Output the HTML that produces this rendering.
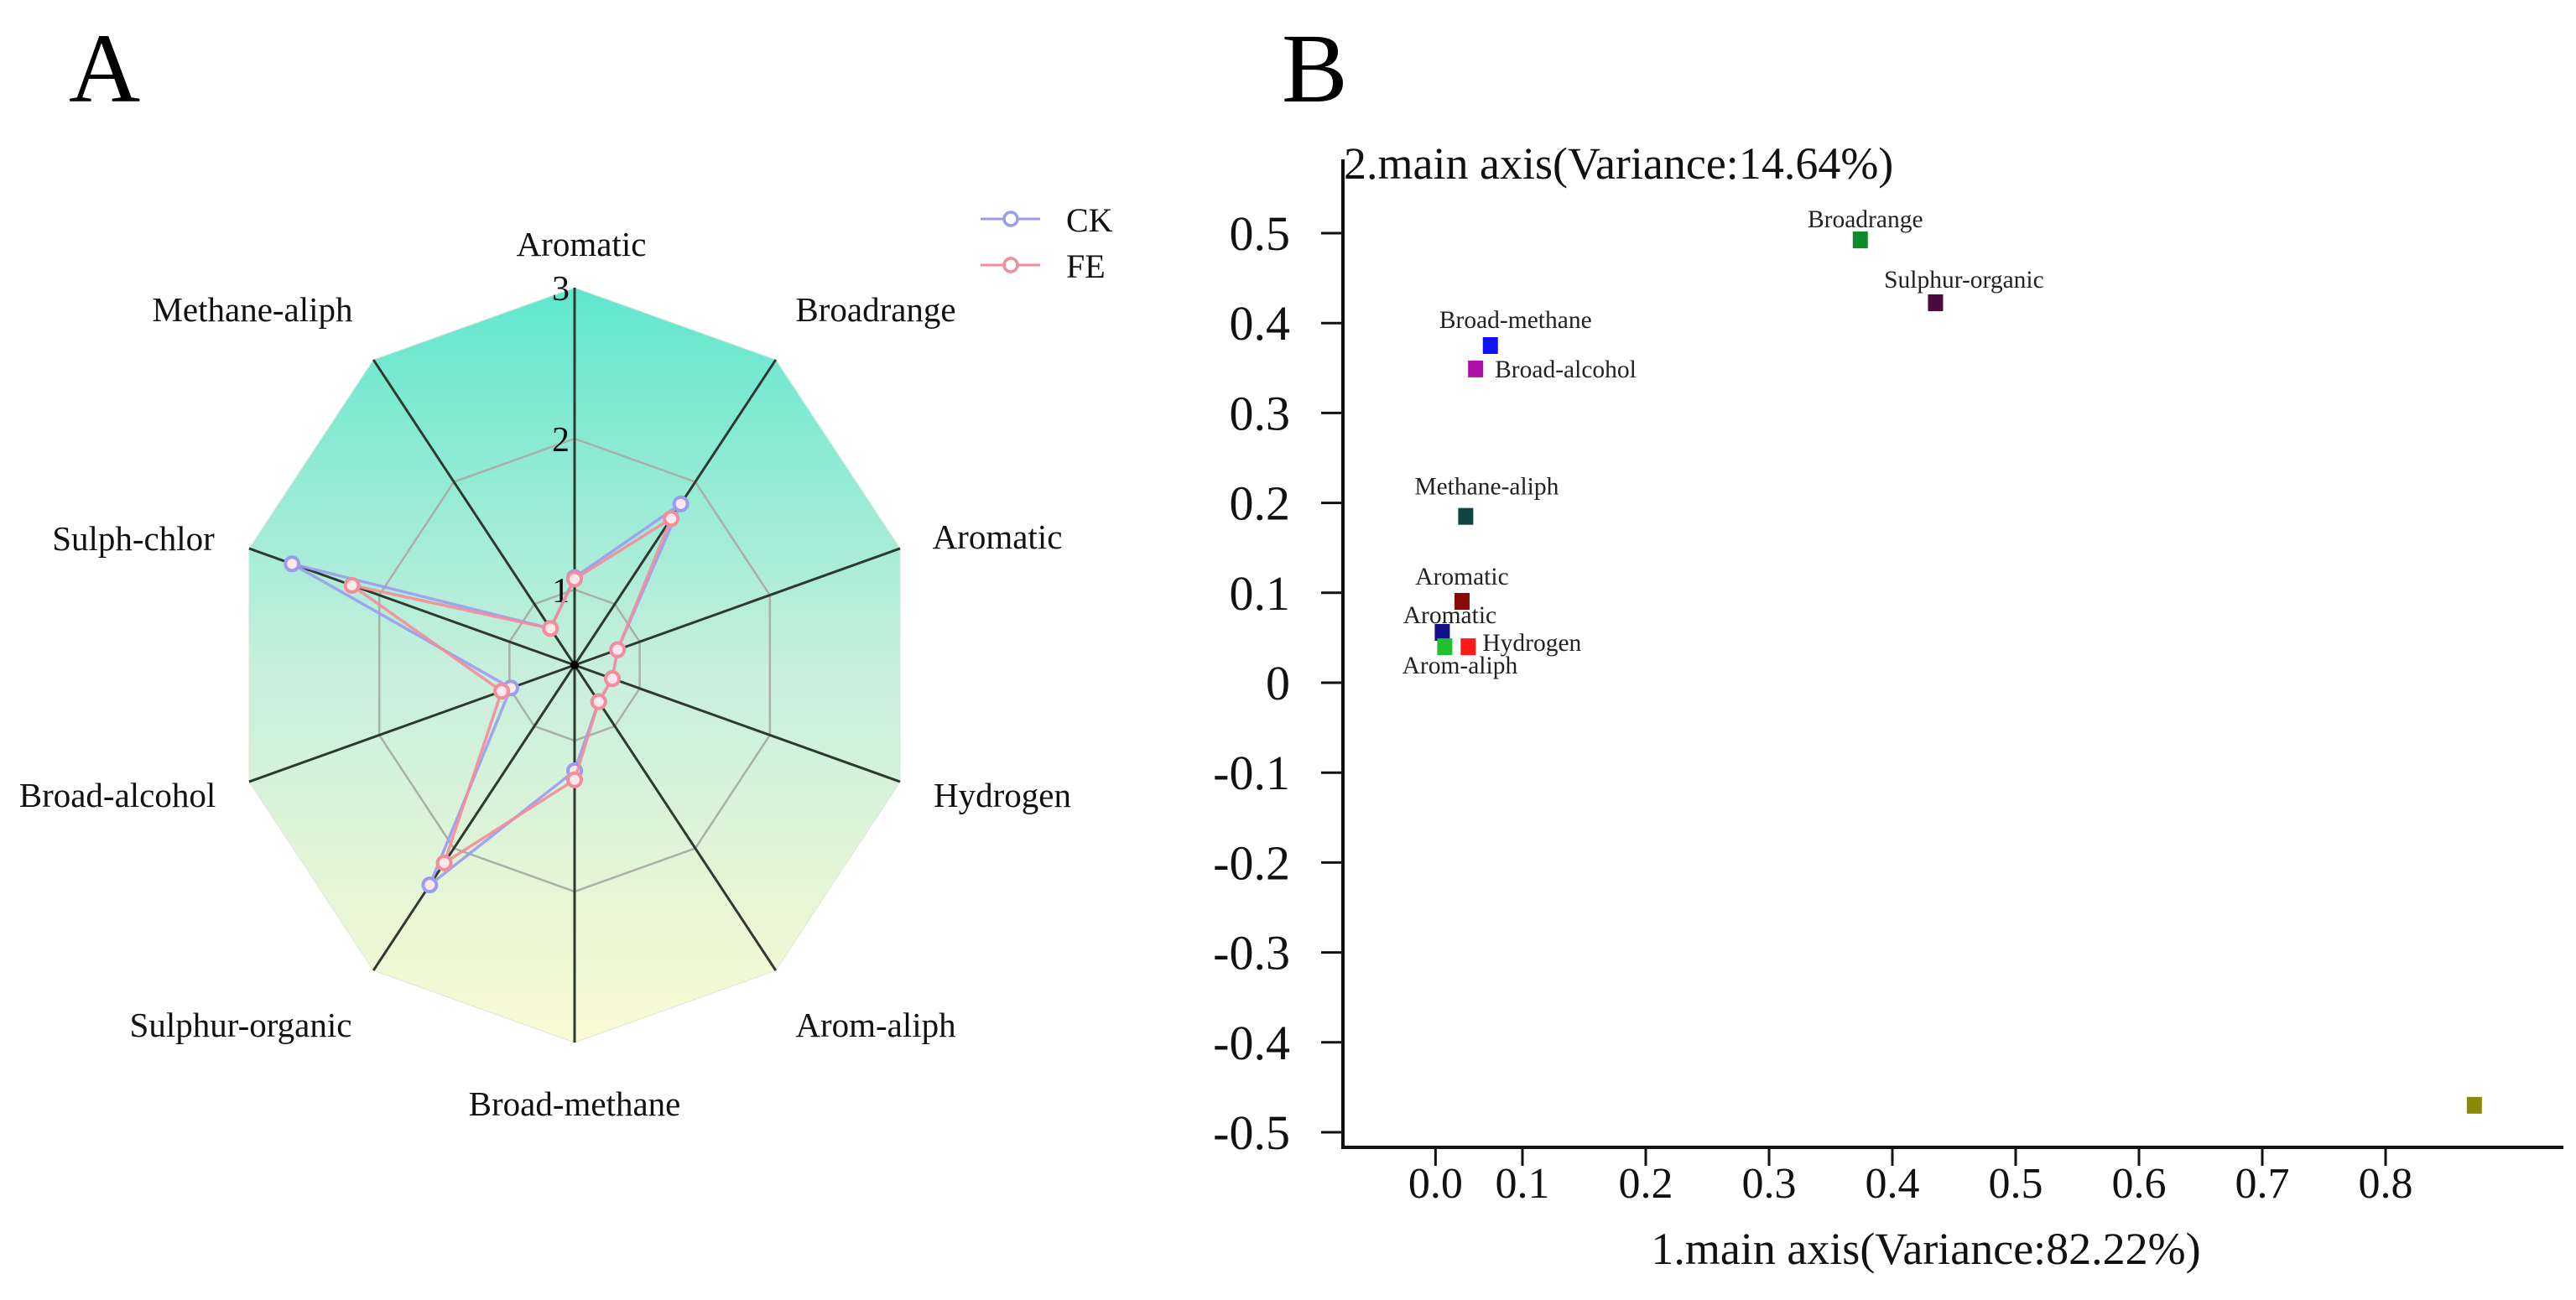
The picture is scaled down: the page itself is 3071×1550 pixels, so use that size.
<!DOCTYPE html>
<html><head><meta charset="utf-8">
<style>
html,body{margin:0;padding:0;background:#fff;}
svg{display:block;font-family:"Liberation Serif",serif;}
</style></head>
<body>
<svg id="fig" width="3071" height="1550" viewBox="0 0 3071 1550" xmlns="http://www.w3.org/2000/svg">
<defs>
<linearGradient id="rg" x1="0" y1="0" x2="0" y2="1">
<stop offset="0" stop-color="#5fe7cd"/>
<stop offset="0.5" stop-color="#c6efdc"/>
<stop offset="1" stop-color="#fafad3"/>
</linearGradient>
</defs>
<text x="82" y="121" font-size="118">A</text>
<text x="1528" y="121" font-size="118">B</text>
<g id="radar"></g>
<g id="scatter"></g>
</svg>
<script>
// ---------- Radar data ----------
const radarAxes = ["Aromatic","Broadrange","Aromatic","Hydrogen","Arom-aliph","Broad-methane","Sulphur-organic","Broad-alcohol","Sulph-chlor","Methane-aliph"];
const ckValues = [1.08, 1.82, 0.83, 0.79, 0.80, 1.20, 2.30, 0.99, 2.67, 0.80];
const feValues = [1.07, 1.70, 0.83, 0.79, 0.80, 1.26, 2.12, 1.06, 2.21, 0.80];
const radarTicks = [1, 2, 3];
const radarTickLabels = ["1", "2", "3"];
const radarMin = 0.5, radarMax = 3;

// ---------- Scatter data ----------
const scatterNames = ["Broadrange","Sulphur-organic","Broad-methane","Broad-alcohol","Methane-aliph","Aromatic","Aromatic","Arom-aliph","Hydrogen",""];
const pc1Values = [0.374, 0.435, 0.074, 0.062, 0.054, 0.051, 0.035, 0.037, 0.056, 0.872];
const pc2Values = [0.4925, 0.4226, 0.375, 0.349, 0.185, 0.0905, 0.056, 0.040, 0.040, -0.470];
const yTickValues = [0.5,0.4,0.3,0.2,0.1,0,-0.1,-0.2,-0.3,-0.4,-0.5];
const yTickLabels = ["0.5","0.4","0.3","0.2","0.1","0","-0.1","-0.2","-0.3","-0.4","-0.5"];
const xTickValues = [0.0295,0.1,0.2,0.3,0.4,0.5,0.6,0.7,0.8];
const xTickLabels = ["0.0","0.1","0.2","0.3","0.4","0.5","0.6","0.7","0.8"];

const NS = "http://www.w3.org/2000/svg";
function mk(tag, attrs, parent){
  const e = document.createElementNS(NS, tag);
  for (const k in attrs) e.setAttribute(k, attrs[k]);
  parent.appendChild(e);
  return e;
}

// ---------- Radar ----------
(function(){
  const g = document.getElementById('radar');
  const cx = 685, cy = 793, rx = 408, ry = 450;
  const n = radarAxes.length;
  function pt(i, v){
    const f = (v - radarMin) / (radarMax - radarMin);
    const a = i * 2 * Math.PI / n;
    return [cx + rx * f * Math.sin(a), cy - ry * f * Math.cos(a)];
  }
  function poly(v){ return radarAxes.map((_, i) => pt(i, v).join(',')).join(' '); }
  const bg = mk('polygon', {points: poly(radarMax), fill: 'url(#rg)', stroke: '#d8e8d8', 'stroke-width': 1}, g);
  
  
  radarTicks.slice(0, 2).forEach((t, k) => {
    const r = mk('polygon', {points: poly(t), fill: 'none', stroke: '#a8b0a8', 'stroke-width': 2.5}, g);
    
    
  });
  radarAxes.forEach((name, i) => {
    const p = pt(i, radarMax);
    const s = mk('line', {x1: cx, y1: cy, x2: p[0], y2: p[1], stroke: '#2e3a30', 'stroke-width': 3}, g);
    
    
  });
  mk('circle', {cx: cx, cy: cy, r: 5, fill: '#000'}, g);
  radarTicks.forEach((t, k) => {
    const p = pt(0, t);
    const tx = mk('text', {x: cx - 6, y: p[1] + 15, 'font-size': 42, 'text-anchor': 'end', fill: '#111'}, g);
    tx.textContent = radarTickLabels[k];
    
    
  });
  const labelPos = [[693,305],[1044,383],[1189,654],[1195,962],[1044,1236],[685,1330],[287,1236],[140,962],[159,656],[301,383]];
  radarAxes.forEach((name, i) => {
    const tx = mk('text', {x: labelPos[i][0], y: labelPos[i][1], 'font-size': 41, 'text-anchor': 'middle', fill: '#111'}, g);
    tx.textContent = name;
    
    
  });
  function series(vals, color, name){
    const pts = vals.map((v, i) => pt(i, v));
    const pl = mk('polygon', {points: pts.map(p => p.join(',')).join(' '), fill: 'none', stroke: color, 'stroke-width': 3.5, 'stroke-opacity': 0.9}, g);
    
    
    pts.forEach(p => {
      const c = mk('circle', {cx: p[0], cy: p[1], r: 8, fill: '#fbe8ee', stroke: color, 'stroke-width': 4}, g);
      
      
    });
  }
  series(ckValues, '#9a9cf0', 'ck');
  series(feValues, '#f38d9a', 'fe');
  [['CK', '#9a9cf0', 261, 276], ['FE', '#f38d9a', 316, 331]].forEach(l => {
    const lg = mk('g', {}, g);
    
    
    mk('line', {x1: 1169, y1: l[2], x2: 1240, y2: l[2], stroke: l[1], 'stroke-width': 3}, lg);
    mk('circle', {cx: 1205, cy: l[2], r: 8, fill: '#fff', stroke: l[1], 'stroke-width': 3.5}, lg);
    const t = mk('text', {x: 1271, y: l[3], 'font-size': 40, fill: '#111'}, lg);
    t.textContent = l[0];
  });
})();

// ---------- Scatter ----------
(function(){
  const g = document.getElementById('scatter');
  const axX = 1601, axY = 1368;
  function xs(v){ return 1668 + v * 1470; }
  function ys(v){ return 814 - v * 1072; }
  const ya = mk('line', {x1: axX, y1: 190, x2: axX, y2: axY + 2, stroke: '#111', 'stroke-width': 4}, g);
  
  
  const xa = mk('line', {x1: axX - 2, y1: axY, x2: 3056, y2: axY, stroke: '#111', 'stroke-width': 4}, g);
  
  
  yTickValues.forEach((v, k) => {
    const y = ys(v);
    mk('line', {x1: axX - 26, y1: y, x2: axX, y2: y, stroke: '#111', 'stroke-width': 3}, g);
    const t = mk('text', {x: 1538, y: y + 20, 'font-size': 58, 'text-anchor': 'end', fill: '#111'}, g);
    t.textContent = yTickLabels[k];
    
    
  });
  xTickValues.forEach((v, k) => {
    const x = xs(v);
    mk('line', {x1: x, y1: axY, x2: x, y2: axY + 22, stroke: '#111', 'stroke-width': 3}, g);
    const t = mk('text', {x: x, y: 1428, 'font-size': 52, 'text-anchor': 'middle', fill: '#111'}, g);
    t.textContent = xTickLabels[k];
    
    
  });
  const yt = mk('text', {x: 1602, y: 213, 'font-size': 54, fill: '#111'}, g);
  yt.textContent = '2.main axis(Variance:14.64%)';
  
  
  const xt = mk('text', {x: 2296, y: 1507, 'font-size': 54, 'text-anchor': 'middle', fill: '#111'}, g);
  xt.textContent = '1.main axis(Variance:82.22%)';
  
  

  const colors = ['#0f8a2a','#4a0a40','#1010ff','#b010a8','#0f4440','#8a0a0a','#10108a','#20c030','#ff1a1a','#8a8a08'];
  const labOff = [[6,-15,'middle'],[34,-18,'middle'],[30,-21,'middle'],[23,10,'start'],[25,-26,'middle'],[0,-20,'middle'],[9,-11,'middle'],[18,32,'middle'],[17,5,'start'],[0,0,'middle']];
  scatterNames.forEach((name, i) => {
    const x = xs(pc1Values[i]), y = ys(pc2Values[i]);
    const r = mk('rect', {x: x - 9, y: y - 10, width: 18, height: 20, fill: colors[i]}, g);
    
    
    if (name) {
      const t = mk('text', {x: x + labOff[i][0], y: y + labOff[i][1], 'font-size': 29.5, 'text-anchor': labOff[i][2], fill: '#222'}, g);
      t.textContent = name;
      
      
    }
  });
})();
</script>
</body></html>
